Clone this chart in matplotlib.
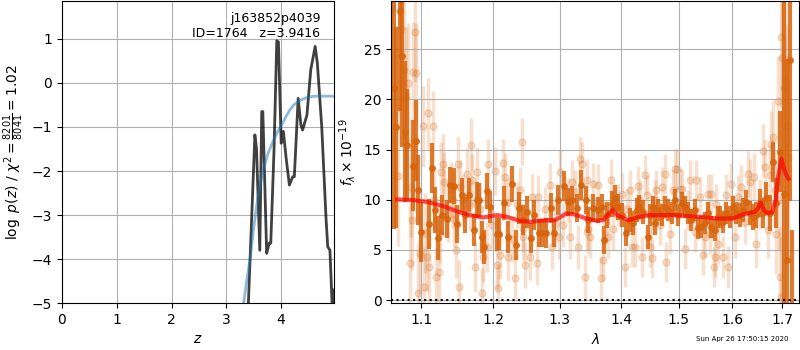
import numpy as np
import matplotlib as mpl
import matplotlib.pyplot as plt
from matplotlib.ticker import FormatStrFormatter, NullLocator

# redshift probability, log p(z)
z_grid = [0.00, 3.30, 3.40, 3.46, 3.52, 3.55, 3.61, 3.645, 3.665, 3.735, 3.78, 3.81,
          3.87, 3.92, 3.95, 4.00, 4.04, 4.09, 4.15, 4.21, 4.24, 4.31, 4.36, 4.39,
          4.47, 4.54, 4.62, 4.66, 4.74, 4.82, 4.85, 4.89, 4.93, 4.95, 4.97]
log_pz = [-60.0, -9.0, -5.05, -3.11, -1.18, -1.50, -3.80, -0.65, -0.65, -3.87, -3.64, -3.64,
          -1.50, 0.96, 0.93, -1.37, -1.10, -1.70, -2.32, -2.13, -2.13, -0.35, -0.95, -1.07,
          -0.73, 0.30, 0.83, 0.45, -0.99, -3.11, -3.72, -3.80, -5.05, -4.70, -4.70]

# prior
z_prior = [3.20, 3.31, 3.37, 3.43, 3.49, 3.55, 3.61, 3.67, 3.76, 3.86, 3.93, 4.01,
           4.08, 4.16, 4.23, 4.31, 4.39, 4.47, 4.54, 4.62, 4.97]
log_prior = [-6.2, -5.05, -4.5, -4.02, -3.38, -2.81, -2.35, -1.98, -1.60, -1.30, -1.12, -0.95,
             -0.78, -0.61, -0.50, -0.42, -0.37, -0.33, -0.31, -0.30, -0.30]

obj_name = 'j163852p4039'
obj_id = 1764
z_best = 3.9416
chi2, dof = 8201, 8041

# binned spectrum
wave_bin = [1.0648, 1.0674, 1.0725, 1.0755, 1.0790, 1.0820, 1.0894, 1.0934, 1.0960, 1.1000,
            1.1107, 1.1151, 1.1187, 1.1228, 1.1278, 1.1346, 1.1390, 1.1446, 1.1484, 1.1553,
            1.1599, 1.1658, 1.1720, 1.1763, 1.1800, 1.1843, 1.1871, 1.1914, 1.1953, 1.2050,
            1.2088, 1.2160, 1.2214, 1.2268, 1.2328, 1.2382, 1.2442, 1.2492, 1.2552, 1.2603,
            1.2679, 1.2720, 1.2781, 1.2858, 1.2914, 1.2977, 1.3071, 1.3124, 1.3187, 1.3267,
            1.3341, 1.3412, 1.3454, 1.3535, 1.3617, 1.3673, 1.3716, 1.3756, 1.3838, 1.3893,
            1.3948, 1.4005, 1.4078, 1.4146, 1.4202, 1.4260, 1.4305, 1.4374, 1.4461, 1.4491,
            1.4548, 1.4578, 1.4636, 1.4696, 1.4755, 1.4813, 1.4874, 1.4933, 1.4992, 1.5054,
            1.5114, 1.5174, 1.5236, 1.5297, 1.5358, 1.5421, 1.5482, 1.5544, 1.5607, 1.5670,
            1.5732, 1.5764, 1.5827, 1.5892, 1.5955, 1.6019, 1.6085, 1.6149, 1.6213, 1.6279,
            1.6343, 1.6409, 1.6476, 1.6541, 1.6607, 1.6674, 1.6741, 1.6809, 1.6878, 1.6945,
            1.7033, 1.7103, 1.7164, 1.7197]
flux_bin = [21.1, 17.2, 28.8, 24.3, 16.8, 15.5, 13.4, 15.9, 11.0, 6.8,
            7.6, 13.2, 9.0, 6.2, 8.5, 8.1, 11.5, 11.4, 7.6, 10.5,
            8.5, 10.5, 7.0, 10.0, 10.0, 6.3, 5.3, 10.9, 9.3, 6.6,
            6.6, 9.7, 6.3, 11.6, 5.5, 9.2, 8.0, 8.8, 6.2, 8.5,
            6.7, 6.7, 6.7, 9.2, 6.7, 10.0, 11.4, 9.8, 10.0, 9.2,
            11.5, 10.0, 8.0, 9.2, 9.0, 9.3, 6.0, 8.5, 9.6, 10.2,
            9.3, 8.5, 6.7, 8.0, 7.7, 9.0, 9.3, 8.8, 6.3, 8.5,
            9.3, 7.7, 9.0, 8.5, 9.3, 9.0, 8.7, 10.0, 8.5, 9.7,
            9.3, 8.7, 8.0, 9.0, 7.2, 7.3, 7.7, 8.7, 7.3, 7.0,
            8.3, 8.3, 7.8, 8.7, 8.3, 9.3, 8.7, 8.5, 9.0, 9.8,
            8.7, 8.3, 8.5, 9.7, 8.7, 10.2, 8.7, 13.8, 9.7, 14.8,
            10.6, 4.0, 23.9, -5.0]
err_bin = [14.0, 10.0, 10.0, 9.0, 7.0, 5.5, 4.5, 4.0, 3.5, 3.0,
           2.5, 2.5, 2.3, 2.2, 2.0, 1.9, 1.8, 1.8, 1.9, 1.7,
           1.8, 1.7, 1.6, 1.8, 1.7, 1.6, 1.7, 1.8, 1.6, 1.7,
           1.6, 1.7, 1.6, 1.8, 1.5, 1.6, 1.5, 1.6, 1.5, 1.5,
           1.4, 1.4, 1.5, 1.5, 1.4, 1.5, 1.5, 1.4, 1.4, 1.4,
           1.5, 1.4, 1.3, 1.4, 1.3, 1.3, 1.4, 1.3, 1.3, 1.3,
           1.3, 1.2, 1.3, 1.2, 1.2, 1.2, 1.2, 1.2, 1.2, 1.1,
           1.1, 1.2, 1.1, 1.1, 1.1, 1.1, 1.1, 1.1, 1.1, 1.1,
           1.1, 1.1, 1.1, 1.1, 1.1, 1.1, 1.1, 1.1, 1.1, 1.1,
           1.1, 1.1, 1.1, 1.1, 1.1, 1.1, 1.1, 1.2, 1.2, 1.2,
           1.2, 1.3, 1.3, 1.4, 1.5, 1.6, 1.8, 2.0, 2.5, 4.0,
           20.0, 20.0, 14.0, 12.0]

# unbinned pixels
wave_pix = [1.0623, 1.0695, 1.0740, 1.0773, 1.0802, 1.0832, 1.0858, 1.0868, 1.0877, 1.0888,
            1.0925, 1.0934, 1.0956, 1.0991, 1.1022, 1.1036, 1.1053, 1.1080, 1.1089, 1.1110,
            1.1156, 1.1166, 1.1201, 1.1245, 1.1254, 1.1268, 1.1299, 1.1312, 1.1358, 1.1404,
            1.1428, 1.1450, 1.1469, 1.1497, 1.1511, 1.1529, 1.1575, 1.1622, 1.1668, 1.1682,
            1.1700, 1.1739, 1.1763, 1.1810, 1.1843, 1.1857, 1.1906, 1.1921, 1.1978, 1.2026,
            1.2050, 1.2065, 1.2098, 1.2137, 1.2171, 1.2210, 1.2219, 1.2268, 1.2317, 1.2343,
            1.2392, 1.2417, 1.2429, 1.2442, 1.2467, 1.2542, 1.2567, 1.2643, 1.2668, 1.2771,
            1.2848, 1.2874, 1.2925, 1.2992, 1.3003, 1.3055, 1.3134, 1.3160, 1.3187, 1.3240,
            1.3293, 1.3320, 1.3347, 1.3400, 1.3427, 1.3437, 1.3454, 1.3481, 1.3535, 1.3617,
            1.3661, 1.3699, 1.3738, 1.3782, 1.3826, 1.3865, 1.3948, 1.4005, 1.4061, 1.4090,
            1.4146, 1.4175, 1.4232, 1.4278, 1.4317, 1.4346, 1.4404, 1.4433, 1.4491, 1.4520,
            1.4531, 1.4578, 1.4607, 1.4666, 1.4696, 1.4755, 1.4784, 1.4843, 1.4903, 1.4933,
            1.4974, 1.5023, 1.5054, 1.5114, 1.5174, 1.5205, 1.5297, 1.5328, 1.5390, 1.5440,
            1.5482, 1.5544, 1.5575, 1.5607, 1.5651, 1.5670, 1.5701, 1.5732, 1.5827, 1.5892,
            1.5923, 1.5987, 1.6052, 1.6117, 1.6182, 1.6246, 1.6311, 1.6343, 1.6429, 1.6462,
            1.6541, 1.6607, 1.6641, 1.6708, 1.6741, 1.6777, 1.6809, 1.6843, 1.6878, 1.6911,
            1.6932, 1.6945, 1.6965, 1.6979, 1.7000, 1.7027, 1.7062, 1.7103, 1.7115]
flux_pix = [29.0, 12.4, 27.0, 22.9, 20.2, 21.6, 3.7, 11.3, 8.0, 22.7,
            26.7, 22.6, 0.7, 4.6, 17.3, 1.3, 6.7, 4.3, 18.6, 3.3,
            17.3, 10.0, 2.3, 2.8, 6.7, 12.8, 13.6, 11.8, 8.6, 11.0,
            10.0, 8.1, 5.0, 13.6, 1.3, 11.3, 10.0, 12.6, 9.5, 15.5,
            12.0, 3.3, 12.8, 9.1, 0.7, 4.3, 5.3, 13.6, 7.5, 12.9,
            3.5, 1.2, 4.5, 13.7, 12.3, 4.3, 9.8, 6.1, 2.2, 9.5,
            11.0, 15.8, 7.1, 6.3, 3.5, 4.3, 10.3, 3.7, 10.3, 9.1,
            11.5, 5.3, 7.6, 6.3, 12.8, 7.5, 10.0, 6.3, 11.8, 10.8,
            5.3, 14.1, 13.6, 2.3, 12.0, 6.8, 7.1, 6.3, 11.6, 11.5,
            2.2, 4.0, 7.8, 6.3, 12.0, 7.1, 9.5, 10.6, 3.3, 9.1,
            11.0, 5.3, 5.3, 11.4, 10.0, 4.3, 12.5, 10.5, 5.3, 4.2,
            8.6, 10.0, 11.0, 7.5, 11.3, 12.6, 3.8, 6.6, 11.0, 13.1,
            13.1, 11.1, 11.1, 5.1, 9.0, 12.0, 6.8, 12.0, 10.3, 4.5,
            6.3, 10.6, 6.6, 10.6, 3.3, 4.3, 9.6, 5.6, 4.3, 10.5,
            3.3, 11.6, 6.3, 10.3, 11.3, 7.8, 12.6, 11.8, 12.3, 5.6,
            9.6, 14.9, 13.3, 7.0, 12.5, 15.6, 16.3, 11.0, 6.6, 19.8,
            10.0, 2.3, 0.3, 26.2, 24.1, 21.1, 21.9, 17.3, 14.3]
err_pix = [8.0, 7.0, 8.0, 7.0, 7.0, 6.0, 6.0, 5.0, 5.0, 5.0,
           5.0, 5.0, 5.0, 4.0, 4.0, 4.0, 4.0, 3.5, 3.5, 3.5,
           3.5, 3.0, 3.0, 3.0, 3.0, 3.0, 3.0, 3.0, 2.8, 2.8,
           2.8, 2.8, 2.8, 2.7, 2.7, 2.7, 2.6, 2.6, 2.6, 2.6,
           2.6, 2.5, 2.5, 2.5, 2.5, 2.5, 2.5, 2.5, 2.4, 2.4,
           2.4, 2.4, 2.4, 2.4, 2.4, 2.4, 2.3, 2.3, 2.3, 2.3,
           2.3, 2.3, 2.3, 2.3, 2.3, 2.3, 2.3, 2.2, 2.2, 2.2,
           2.2, 2.2, 2.2, 2.2, 2.2, 2.2, 2.2, 2.2, 2.2, 2.2,
           2.2, 2.2, 2.2, 2.2, 2.1, 2.1, 2.1, 2.1, 2.1, 2.1,
           2.1, 2.1, 2.1, 2.1, 2.1, 2.1, 2.1, 2.1, 2.0, 2.0,
           2.0, 2.0, 2.0, 2.0, 2.0, 2.0, 2.0, 2.0, 2.0, 2.0,
           2.0, 2.0, 2.0, 2.0, 2.0, 2.0, 2.0, 2.0, 2.0, 2.0,
           2.0, 2.0, 2.0, 2.0, 2.0, 2.0, 2.0, 2.0, 2.0, 2.0,
           2.0, 2.0, 2.0, 2.0, 2.0, 2.0, 2.0, 2.0, 2.1, 2.1,
           2.1, 2.1, 2.1, 2.2, 2.2, 2.2, 2.3, 2.3, 2.4, 2.4,
           2.5, 2.6, 2.7, 2.8, 3.0, 3.2, 3.5, 3.8, 4.0, 4.5,
           5.0, 5.0, 6.0, 7.0, 8.0, 8.0, 9.0, 10.0, 10.0]

# best-fit template
wave_model = [1.0687, 1.0898, 1.1076, 1.1299, 1.1529, 1.1668, 1.1857, 1.2050, 1.2195, 1.2392,
              1.2542, 1.2797, 1.2925, 1.3108, 1.3213, 1.3427, 1.3595, 1.3699, 1.3855, 1.3922,
              1.4117, 1.4317, 1.4491, 1.4903, 1.5390, 1.5701, 1.6019, 1.6213, 1.6443, 1.6508,
              1.6561, 1.6627, 1.6708, 1.6797, 1.6864, 1.6911, 1.6979, 1.7033, 1.7082, 1.7129]
flux_model = [10.03, 9.96, 9.79, 9.36, 8.73, 8.47, 8.24, 8.47, 8.30, 7.90,
              7.80, 7.97, 7.97, 8.63, 8.57, 8.13, 7.90, 7.97, 9.03, 8.47,
              7.97, 8.30, 8.47, 8.47, 8.30, 8.13, 8.13, 8.53, 8.80, 9.13,
              9.70, 8.96, 8.63, 8.80, 9.96, 12.28, 14.10, 13.10, 12.45, 12.10]

stamp = 'Sun Apr 26 17:50:15 2020'

orange = '#d8640c'

fig = plt.figure(figsize=(8, 3.5), dpi=100)
ax1 = fig.add_axes([0.0775, 0.134, 0.34, 0.863])
ax2 = fig.add_axes([0.489, 0.134, 0.510, 0.863])

# p(z)
ax1.plot(z_grid, log_pz, color='k', alpha=0.75, lw=2)
ax1.plot(z_prior, log_prior, color='#1f77b4', alpha=0.5, lw=2)
ax1.set_xlim(0, 4.964)
ax1.set_ylim(-5, 1.86)
ax1.set_xlabel(r'$z$')
ax1.set_ylabel(r'$\log\ p(z)$ / $\chi^2=\frac{%d}{%d}=%.2f$' % (chi2, dof, chi2 / dof))
ax1.text(0.95, 0.965, '%s\nID=%d   z=%.4f' % (obj_name, obj_id, z_best),
         ha='right', va='top', fontsize=9, transform=ax1.transAxes)
ax1.grid()

# spectrum
ax2.errorbar(wave_pix, flux_pix, err_pix, marker='o', linestyle='None', color=orange,
             alpha=0.2, ms=5, elinewidth=2.5, zorder=1)
ax2.errorbar(wave_bin, flux_bin, err_bin, marker='o', linestyle='None', color=orange,
             alpha=0.85, ms=4, elinewidth=3, zorder=2)
ax2.plot(wave_model, flux_model, color='red', alpha=0.7, lw=3, zorder=3)
ax2.axhline(0, color='k', linestyle=':', lw=1.5, zorder=4)
ax2.set_xscale('log')
ax2.set_xlim(1.061, 1.7348)
ax2.set_ylim(-0.3, 29.8)
ax2.set_xticks([1.1, 1.2, 1.3, 1.4, 1.5, 1.6, 1.7])
ax2.xaxis.set_major_formatter(FormatStrFormatter('%.1f'))
ax2.xaxis.set_minor_locator(NullLocator())
ax2.set_xlabel(r'$\lambda$')
ax2.set_ylabel(r'$f_\lambda\times10^{-19}$')
ax2.grid()

fig.text(0.985, 0.03, stamp, ha='right', va='center', fontsize=5)

plt.savefig('out.png', dpi=100)
plt.close(fig)
